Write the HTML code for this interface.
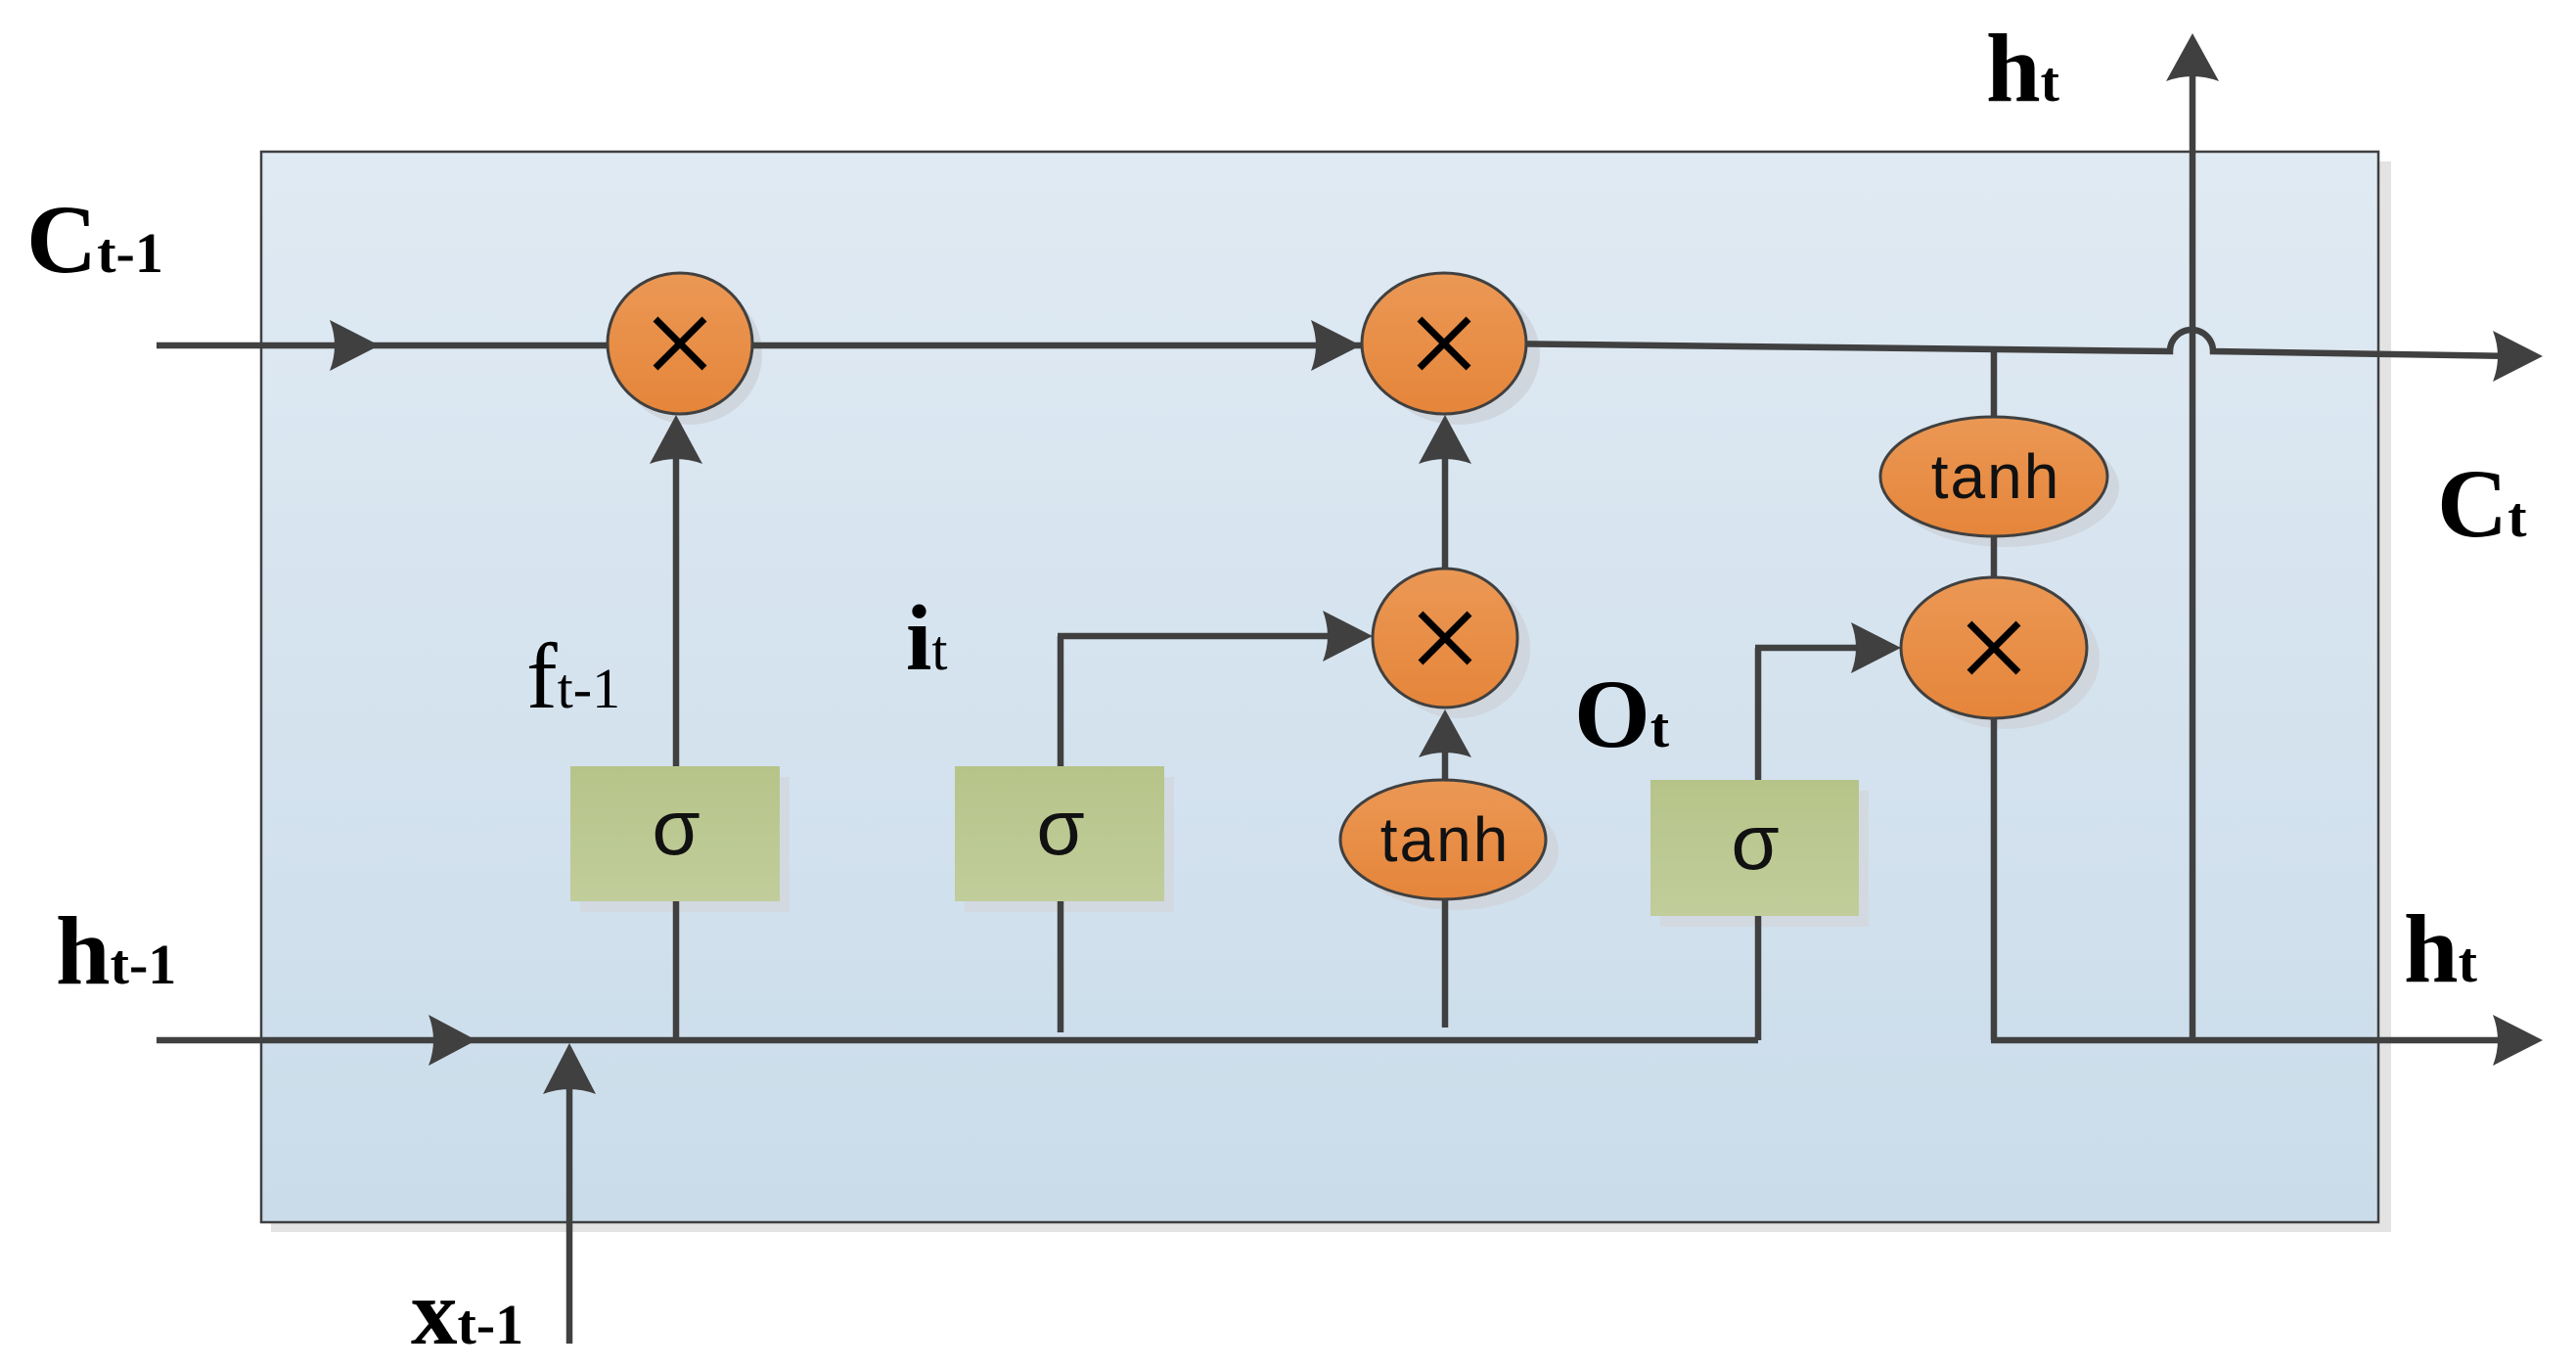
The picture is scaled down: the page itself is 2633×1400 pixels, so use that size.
<!DOCTYPE html>
<html><head><meta charset="utf-8"><style>html,body{margin:0;padding:0;background:#fff}svg{display:block}</style></head>
<body>
<svg width="2633" height="1400" viewBox="0 0 2633 1400" xmlns="http://www.w3.org/2000/svg">
<defs>
<linearGradient id="bg" x1="0" y1="0" x2="0" y2="1"><stop offset="0" stop-color="#e0eaf3"/><stop offset="1" stop-color="#cadcea"/></linearGradient>
<linearGradient id="or" x1="0" y1="0" x2="0" y2="1"><stop offset="0" stop-color="#eb9855"/><stop offset="1" stop-color="#e5853a"/></linearGradient>
<linearGradient id="gr" x1="0" y1="0" x2="0" y2="1"><stop offset="0" stop-color="#b6c489"/><stop offset="1" stop-color="#c1cd9b"/></linearGradient>
</defs>
<rect x="277" y="165" width="2167" height="1094" fill="#e3e3e3"/>
<rect x="267" y="155" width="2164" height="1094" fill="url(#bg)" stroke="#404040" stroke-width="2.5"/>

<g fill="#cfd6de">
<ellipse cx="705" cy="362" rx="74" ry="72"/>
<ellipse cx="1490" cy="362" rx="84" ry="72"/>
<ellipse cx="1490" cy="663" rx="74" ry="71"/>
<ellipse cx="1488" cy="869" rx="105" ry="61"/>
<ellipse cx="2050" cy="498" rx="116" ry="61"/>
<ellipse cx="2051" cy="673" rx="95" ry="72"/>
</g>
<rect x="593" y="794" width="214" height="138" fill="#d3d9e0"/>
<rect x="986" y="794" width="214" height="138" fill="#d3d9e0"/>
<rect x="1697" y="808" width="213" height="139" fill="#d3d9e0"/>

<g stroke="#404040" stroke-width="6.5" fill="none">
<line x1="160" y1="353" x2="640" y2="353"/>
<line x1="740" y1="353" x2="1391" y2="353"/>
<path d="M1520 351 L2218 359 A21 21 0 0 1 2262 359 L2570 364"/>
<line x1="160" y1="1063" x2="1797" y2="1063"/>
<line x1="1797" y1="1063" x2="1797" y2="936"/>
<line x1="1797" y1="797" x2="1797" y2="662"/>
<line x1="1794" y1="662" x2="1915" y2="662"/>
<line x1="582" y1="1373" x2="582" y2="1100"/>
<line x1="691" y1="1063" x2="691" y2="921"/>
<line x1="691" y1="783" x2="691" y2="450"/>
<line x1="1084" y1="1055" x2="1084" y2="921"/>
<line x1="1084" y1="783" x2="1084" y2="650"/>
<line x1="1081" y1="650" x2="1380" y2="650"/>
<line x1="1477" y1="1050" x2="1477" y2="880"/>
<line x1="1477" y1="820" x2="1477" y2="750"/>
<line x1="1477" y1="620" x2="1477" y2="450"/>
<line x1="2038" y1="355" x2="2038" y2="460"/>
<line x1="2038" y1="510" x2="2038" y2="620"/>
<line x1="2038" y1="700" x2="2038" y2="1063"/>
<line x1="2035" y1="1063" x2="2570" y2="1063"/>
<line x1="2241" y1="1063" x2="2241" y2="60"/>
</g>

<g fill="#404040">
<path d="M388 353 L337 327 Q347 353 337 379 Z"/>
<path d="M487 1063 L438 1037 Q448 1063 438 1089 Z"/>
<path d="M582 1066 L555 1118 Q582 1108 609 1118 Z"/>
<path d="M691 424 L664 474 Q691 464 718 474 Z"/>
<path d="M1391 353 L1340 327 Q1350 353 1340 379 Z"/>
<path d="M1403 650 L1352 624 Q1362 650 1352 676 Z"/>
<path d="M1477 424 L1450 474 Q1477 464 1504 474 Z"/>
<path d="M1477 725 L1450 774 Q1477 764 1504 774 Z"/>
<path d="M1943 662 L1892 636 Q1902 662 1892 688 Z"/>
<path d="M2599 364 L2548 338 Q2558 364 2548 390 Z"/>
<path d="M2599 1063 L2548 1037 Q2558 1063 2548 1089 Z"/>
<path d="M2241 34 L2214 83 Q2241 73 2268 83 Z"/>
</g>

<rect x="583" y="783" width="214" height="138" fill="url(#gr)"/>
<rect x="976" y="783" width="214" height="138" fill="url(#gr)"/>
<rect x="1687" y="797" width="213" height="139" fill="url(#gr)"/>
<g font-family="Liberation Sans, sans-serif" font-size="80" text-anchor="middle" fill="#111">
<text x="691" y="873">σ</text>
<text x="1084" y="873">σ</text>
<text x="1794" y="888">σ</text>
</g>

<g fill="url(#or)" stroke="#404040" stroke-width="3">
<ellipse cx="695" cy="351" rx="74" ry="72"/>
<ellipse cx="1476" cy="351" rx="84" ry="72"/>
<ellipse cx="1477" cy="652" rx="74" ry="71"/>
<ellipse cx="1475" cy="858" rx="105" ry="61"/>
<ellipse cx="2038" cy="487" rx="116" ry="61"/>
<ellipse cx="2038" cy="662" rx="95" ry="72"/>
</g>
<g stroke="#000" stroke-width="7">
<path d="M670 326 L720 376 M720 326 L670 376"/>
<path d="M1451 326 L1501 376 M1501 326 L1451 376"/>
<path d="M1452 627 L1502 677 M1502 627 L1452 677"/>
<path d="M2013 637 L2063 687 M2063 637 L2013 687"/>
</g>
<g font-family="Liberation Sans, sans-serif" font-size="64" text-anchor="middle" fill="#111" letter-spacing="2">
<text x="1477" y="880">tanh</text>
<text x="2040" y="509">tanh</text>
</g>

<g font-family="Liberation Serif, serif" fill="#000">
<text x="27" y="278" font-size="100" font-weight="bold">C<tspan font-size="58">t-1</tspan></text>
<text x="57" y="1005" font-size="100" font-weight="bold">h<tspan font-size="58">t-1</tspan></text>
<text x="538" y="723" font-size="95">f<tspan font-size="58">t-1</tspan></text>
<text x="926" y="684" font-size="95" font-weight="bold">i<tspan font-size="58" font-weight="normal">t</tspan></text>
<text x="420" y="1373" font-size="95" font-weight="bold">x<tspan font-size="58">t-1</tspan></text>
<text x="2030" y="103" font-size="100" font-weight="bold">h<tspan font-size="58">t</tspan></text>
<text x="2491" y="548" font-size="100" font-weight="bold">C<tspan font-size="58">t</tspan></text>
<text x="2457" y="1003" font-size="100" font-weight="bold">h<tspan font-size="58">t</tspan></text>
<text x="1609" y="763" font-size="100" font-weight="bold">O<tspan font-size="58">t</tspan></text>
</g>
</svg>
</body></html>
